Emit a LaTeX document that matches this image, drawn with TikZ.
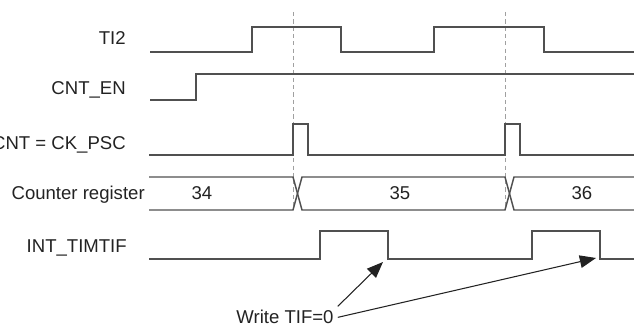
\documentclass[tikz,border=0pt]{standalone}
\usepackage{fontspec}
\setmainfont{Liberation Sans}
\usetikzlibrary{arrows.meta}

\definecolor{wavegray}{HTML}{505050}
\definecolor{guidegray}{HTML}{A0A0A0}
\definecolor{textgray}{HTML}{222222}

\begin{document}
\begin{tikzpicture}[
  x=0.025cm, y=-0.025cm,
  sname/.style={anchor=base east, inner sep=0pt, text=textgray, font=\fontsize{13.2}{15}\selectfont},
  bval/.style={anchor=base, inner sep=0pt, text=textgray, font=\fontsize{13.2}{15}\selectfont},
  wline/.style={draw=wavegray, line width=1.05pt, line join=miter},
  guide/.style={draw=guidegray, line width=0.6pt, dash pattern=on 3pt off 2.2pt},
  pointer/.style={draw=textgray, line width=0.75pt, -{Triangle[length=11.5pt, width=9pt]}}
]
  \useasboundingbox (0,0) rectangle (634,326);

  % signal names
  \node[sname] (ti2) at (126,45) {TI2};
  \node[sname] (cnten) at (126,95) {CNT\_EN};
  \node[sname] (cnt) at (126,150) {CNT = CK\_PSC};
  \node[sname] (creg) at (145,200) {Counter register};
  \node[sname] (tif) at (127,252.5) {INT\_TIMTIF};

  % guides at the counter clock edges
  \draw[guide] (293,12) -- (293,210);
  \draw[guide] (505,12) -- (505,210);

  % waveforms
  \draw[wline] (150,52) -- (252,52) -- (252,27) -- (341,27) -- (341,52)
    -- (434,52) -- (434,27) -- (544,27) -- (544,52) -- (634,52);
  \draw[wline] (150,100) -- (196,100) -- (196,74) -- (634,74);
  \draw[wline] (149,155) -- (293,155) -- (293,124) -- (308,124) -- (308,155)
    -- (505,155) -- (505,124) -- (520,124) -- (520,155) -- (634,155);
  \draw[wline] (149,177) -- (293,177) -- (302,210) -- (505,210) -- (514,177) -- (634,177);
  \draw[wline] (149,210) -- (293,210) -- (302,177) -- (505,177) -- (514,210) -- (634,210);
  \draw[wline] (149,259) -- (320,259) -- (320,231) -- (388,231) -- (388,259)
    -- (532,259) -- (532,231) -- (600,231) -- (600,259) -- (634,259);

  % register values
  \node[bval] (v34) at (202,200) {34};
  \node[bval] (v35) at (400,200) {35};
  \node[bval] (v36) at (582,200) {36};

  % flag clear
  \node[bval, inner sep=2.8pt] (write) at (285,324) {Write TIF=0};
  \coordinate (clr1) at (383,262);
  \coordinate (clr2) at (596,258);
  \draw[pointer] (write.north east) -- (clr1);
  \draw[pointer] (write.east) -- (clr2);
\end{tikzpicture}
\end{document}
